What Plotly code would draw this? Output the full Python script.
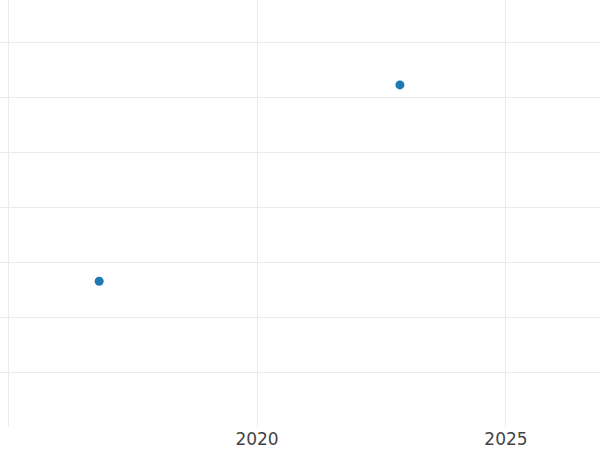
import plotly.graph_objects as go

years = [2016.83, 2022.87]
values = [26.5, 62.2]
x_ticks = [2015, 2020, 2025]

fig = go.Figure(go.Scatter(
    x=years, y=values, mode="markers",
    marker=dict(color="#1f77b4", size=9),
    showlegend=False,
))

fig.update_layout(
    width=600, height=450,
    margin=dict(l=0, r=0, t=0, b=23, autoexpand=False),
    paper_bgcolor="white", plot_bgcolor="white",
    font=dict(family="DejaVu Sans", size=17, color="#444"),
)
fig.update_xaxes(
    range=[2014.839, 2026.888], tickvals=x_ticks, ticktext=[str(t) for t in x_ticks],
    showgrid=True, gridcolor="#ebebeb", gridwidth=1, zeroline=False, showline=False,
    ticks="", automargin=False,
)
fig.update_yaxes(
    range=[0, 77.64], dtick=10, showgrid=True, gridcolor="#ebebeb", gridwidth=1,
    zeroline=False, showline=False, ticks="", showticklabels=False, automargin=False,
)

fig.write_html("out.html", config={"displayModeBar": False},
               post_script="document.body.style.margin='0';")
